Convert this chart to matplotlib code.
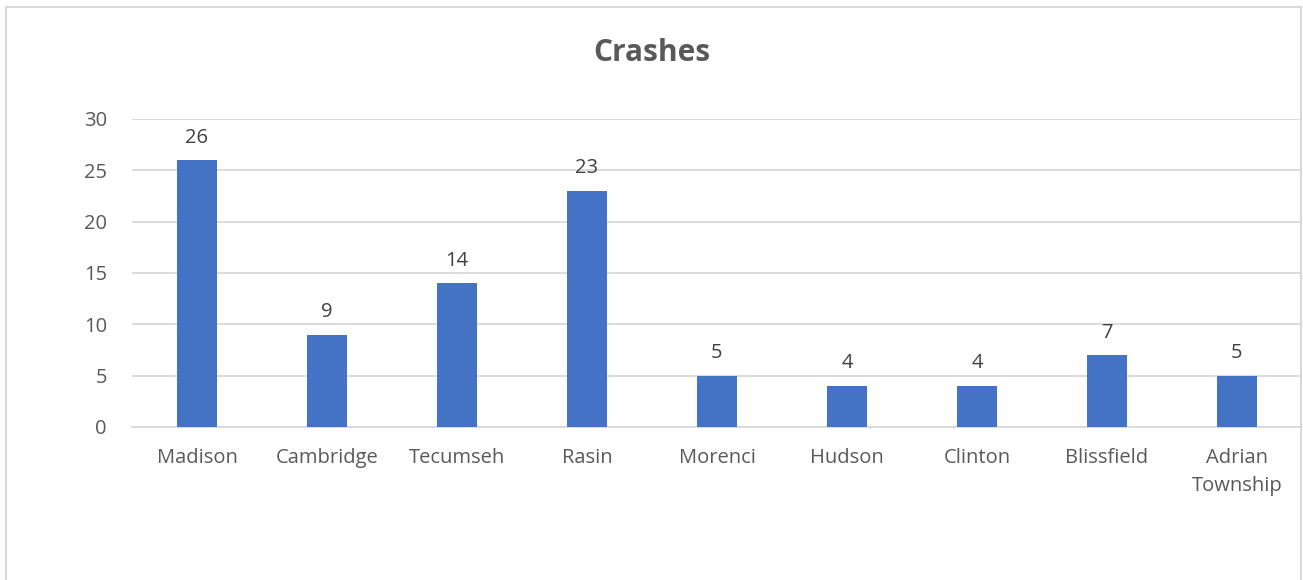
import matplotlib.pyplot as plt
from matplotlib.lines import Line2D

categories = ['Madison', 'Cambridge', 'Tecumseh', 'Rasin', 'Morenci', 'Hudson',
              'Clinton', 'Blissfield', 'Adrian\nTownship']
crashes = [26, 9, 14, 23, 5, 4, 4, 7, 5]

plt.rcParams['font.family'] = ['Open Sans', 'DejaVu Sans']

fig = plt.figure(figsize=(13.03, 5.8), dpi=100)
ax = fig.add_axes([132 / 1303, 1 - 427 / 580, 1170 / 1303, 308 / 580])

x = range(len(categories))
bars = ax.bar(x, crashes, width=0.31, color='#4472c4', zorder=3)
ax.bar_label(bars, padding=9, fontsize=14.5, color='#404040')

ax.set_xlim(-0.5, len(categories) - 0.5)
ax.set_ylim(0, 30)
ax.set_yticks(range(0, 31, 5))
ax.set_xticks(list(x))
ax.set_xticklabels(categories, linespacing=1.55)
ax.tick_params(axis='both', length=0, labelsize=14.5, labelcolor='#595959')
ax.tick_params(axis='x', pad=15)
ax.tick_params(axis='y', pad=18)
ax.grid(axis='y', color='#d9d9d9', linewidth=1.3, zorder=0)
for s in ['top', 'right', 'left']:
    ax.spines[s].set_visible(False)
ax.spines['bottom'].set_color('#d9d9d9')
ax.spines['bottom'].set_linewidth(1.3)

fig.text(0.5, 1 - 53 / 580, 'Crashes', ha='center', va='center',
         fontsize=21.5, fontweight='bold', color='#595959')

# chart border
bc = '#d9d9d9'
l, r, t = 6 / 1303, 1301 / 1303, 1 - 7 / 580
fig.add_artist(Line2D([l, l], [0, t], transform=fig.transFigure, color=bc, lw=1.5))
fig.add_artist(Line2D([r, r], [0, t], transform=fig.transFigure, color=bc, lw=1.5))
fig.add_artist(Line2D([l, r], [t, t], transform=fig.transFigure, color=bc, lw=1.5))

fig.savefig('out.png', dpi=100)
